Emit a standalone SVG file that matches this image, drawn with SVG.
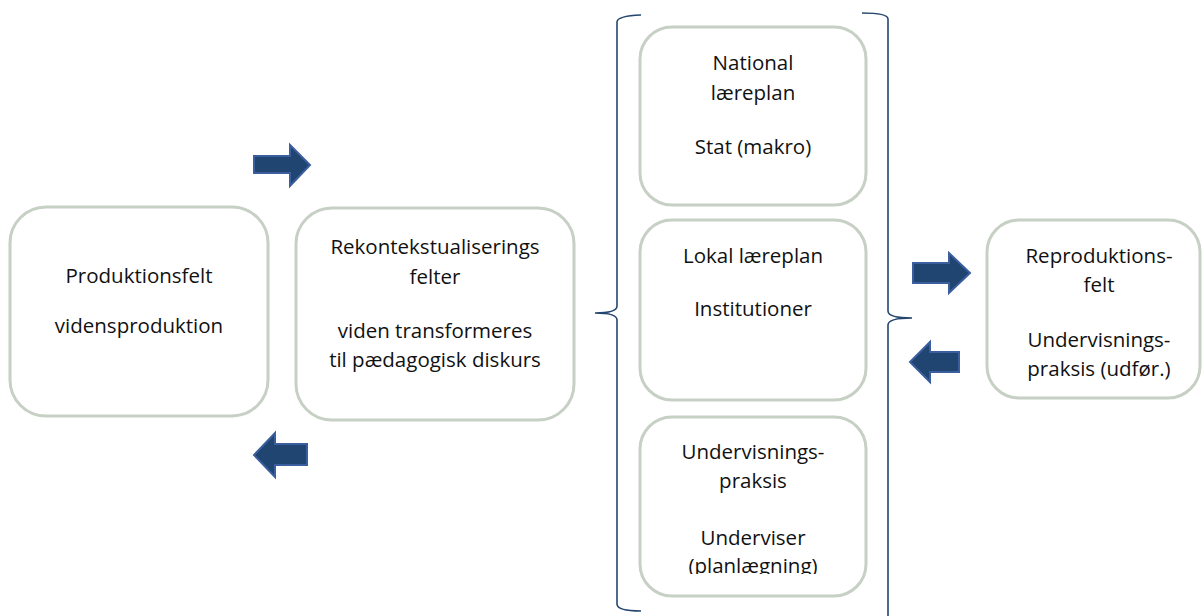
<svg xmlns="http://www.w3.org/2000/svg" width="1203" height="616" viewBox="0 0 1203 616">
<defs>
<style>
.box{fill:#ffffff;stroke:#c7d0c4;stroke-width:3}
.t{font-family:"Open Sans","Noto Sans","Liberation Sans",sans-serif;font-size:20.5px;fill:#111111;text-anchor:middle}
.arr{fill:#1f4570;stroke:#3b5e9e;stroke-width:2;stroke-linejoin:miter}
.br{fill:none;stroke:#25476f;stroke-width:1.6}
</style>
<clipPath id="clip5"><rect x="640" y="417" width="226" height="157"/></clipPath>
</defs>
<rect width="1203" height="616" fill="#ffffff"/>

<g id="node-produktionsfelt">
<rect class="box" x="10" y="207" width="258" height="209" rx="36"/>
<text class="t" x="139" y="283">Produktionsfelt</text>
<text class="t" x="139" y="333">vidensproduktion</text>
</g>

<g id="node-rekontekst">
<rect class="box" x="296" y="208" width="278" height="212" rx="36"/>
<text class="t" x="435" y="254">Rekontekstualiserings</text>
<text class="t" x="435" y="284">felter</text>
<text class="t" x="435" y="338">viden transformeres</text>
<text class="t" x="435" y="367">til pædagogisk diskurs</text>
</g>

<g id="node-national">
<rect class="box" x="640" y="27" width="226" height="178" rx="32"/>
<text class="t" x="753" y="70">National</text>
<text class="t" x="753" y="100">læreplan</text>
<text class="t" x="753" y="154">Stat (makro)</text>
</g>

<g id="node-lokal">
<rect class="box" x="640" y="220" width="226" height="180" rx="32"/>
<text class="t" x="753" y="263">Lokal læreplan</text>
<text class="t" x="753" y="316">Institutioner</text>
</g>

<g id="node-undervisning">
<rect class="box" x="640" y="417" width="226" height="179" rx="32"/>
<g clip-path="url(#clip5)">
<text class="t" x="753" y="459">Undervisnings-</text>
<text class="t" x="753" y="488">praksis</text>
<text class="t" x="753" y="545">Underviser</text>
<text class="t" x="753" y="573">(planlægning)</text>
</g>
</g>

<g id="node-reproduktion">
<rect class="box" x="987" y="220" width="213" height="178" rx="32"/>
<text class="t" x="1099" y="263">Reproduktions-</text>
<text class="t" x="1099" y="292">felt</text>
<text class="t" x="1099" y="347">Undervisnings-</text>
<text class="t" x="1099" y="376">praksis (udfør.)</text>
</g>

<g id="connectors">
<path class="br" d="M641 15 Q617 16 617 22 L617 306 Q617 313 595 313 Q617 313 617 320 L617 604 Q617 611 641 611"/>
<path class="br" d="M862 13 Q888 13 888 19 L888 311 Q888 318 912 318 Q888 318 888 325 L888 620"/>
<polygon class="arr" points="254,156 290,156 290,145 310,165 290,186 290,173 254,173"/>
<polygon class="arr" points="307,444 275,444 275,433 254,455 275,477 275,465 307,465"/>
<polygon class="arr" points="913,263 949,263 949,253 970,273 949,293 949,283 913,283"/>
<polygon class="arr" points="959,352 930,352 930,342 910,362 930,382 930,372 959,372"/>
</g>
</svg>
